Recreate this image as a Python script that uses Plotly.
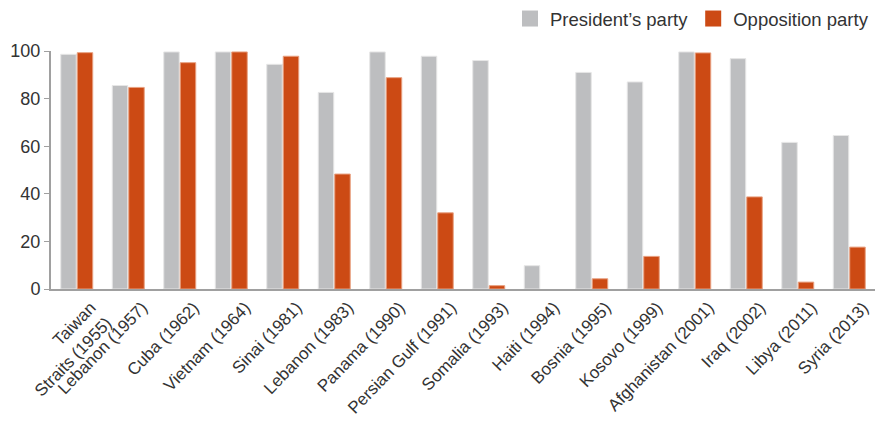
import plotly.graph_objects as go

categories = ["Taiwan<br>Straits (1955)", "Lebanon (1957)", "Cuba (1962)", "Vietnam (1964)",
              "Sinai (1981)", "Lebanon (1983)", "Panama (1990)", "Persian Gulf (1991)",
              "Somalia (1993)", "Haiti (1994)", "Bosnia (1995)", "Kosovo (1999)",
              "Afghanistan (2001)", "Iraq (2002)", "Libya (2011)", "Syria (2013)"]
presidents_party = [98.6, 85.5, 99.6, 99.6, 94.4, 82.6, 99.6, 97.8, 96.0, 9.8, 91.0, 87.0, 99.6, 96.8, 61.6, 64.5]
opposition_party = [99.3, 84.7, 95.1, 99.6, 97.8, 48.3, 88.8, 32.0, 1.4, 0.0, 4.3, 13.7, 99.2, 38.7, 2.9, 17.6]
y_ticks = [0, 20, 40, 60, 80, 100]
series_names = ["President\u2019s party", "Opposition party"]
series_colors = ["#BDBEC0", "#CC4A14"]

FONT = "Liberation Sans, Arial, sans-serif"
TXT = "#333333"

# the page body has an 8px margin, so the figure is sized to fit the window
W, H = 875, 415

fig = go.Figure()
fig.add_bar(x=categories, y=presidents_party, name=series_names[0], showlegend=False,
            marker=dict(color=series_colors[0], line=dict(color="#E6E6E6", width=1)))
fig.add_bar(x=categories, y=opposition_party, name=series_names[1], showlegend=False,
            marker=dict(color=series_colors[1],
                        line=dict(color="#E8A080", width=[1 if v > 0 else 0 for v in opposition_party])))
# legend entries with larger square swatches
for nm, col in zip(series_names, series_colors):
    fig.add_scatter(x=[None], y=[None], mode="markers", name=nm,
                    marker=dict(symbol="square", size=16, color=col))

fig.update_layout(
    width=W, height=H,
    margin=dict(l=43, r=8, t=43, b=134),
    paper_bgcolor="white", plot_bgcolor="white",
    barmode="group", bargap=0.36, bargroupgap=0.06,
    font=dict(family=FONT, size=18, color=TXT),
    legend=dict(orientation="h", x=866 / W, xref="container", xanchor="right",
                y=1 - 11 / H, yref="container", yanchor="middle",
                font=dict(family=FONT, size=18.5, color=TXT), itemwidth=30,
                itemsizing="trace", traceorder="normal"),
    showlegend=True,
)
fig.update_xaxes(showline=True, linecolor="#A0A0A0", linewidth=2, tickangle=-46,
                 ticks="", showgrid=False, automargin=False, ticklabelshift=14,
                 ticklabelstandoff=0,
                 tickfont=dict(family=FONT, size=17, color=TXT))
fig.update_yaxes(range=[0, 100], tickvals=y_ticks, showline=True, linecolor="#A0A0A0",
                 linewidth=2, ticks="outside", ticklen=5, tickcolor="#A0A0A0",
                 showgrid=False, zeroline=False, automargin=False,
                 tickfont=dict(family=FONT, size=18, color=TXT))

fig.write_html("out.html")
